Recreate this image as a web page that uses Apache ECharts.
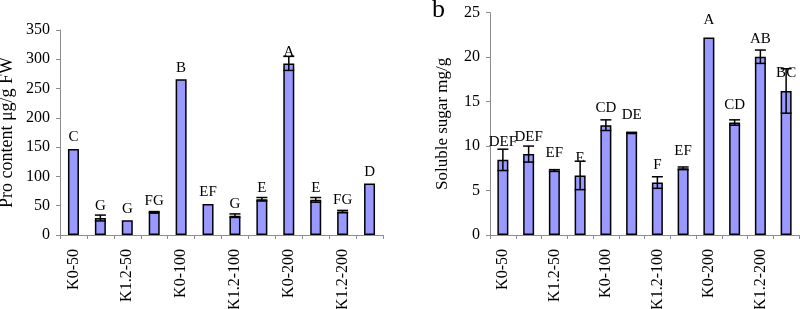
<!DOCTYPE html>
<html>
<head>
<meta charset="utf-8">
<script src="https://cdn.jsdelivr.net/npm/echarts@6/dist/echarts.min.js"></script>
<style>
  html, body { margin: 0; padding: 0; background: #fff; }
  #main { width: 800px; height: 309px; }
</style>
</head>
<body>
<div id="main"></div>
<script>
// tick labels (only every other treatment is labelled in the figure)
const categories = ['K0-50', '', 'K1.2-50', '', 'K0-100', '', 'K1.2-100', '', 'K0-200', '', 'K1.2-200', '']

// panel a: Pro content
const proValues = [147, 29, 25, 39, 266, 53, 33, 61, 293, 60, 40, 88]
const proErrors = [0, 5, 0, 1, 0, 0, 3, 3, 12, 4, 2, 0]
const proLetters = ['C', 'G', 'G', 'FG', 'B', 'EF', 'G', 'E', 'A', 'E', 'FG', 'D']

// panel b: soluble sugar
const sugarValues = [8.45, 9.1, 7.25, 6.7, 12.35, 11.5, 5.9, 7.5, 22.2, 12.65, 20.05, 16.2]
const sugarErrors = [1.2, 0.9, 0.1, 1.6, 0.6, 0.05, 0.65, 0.15, 0, 0.3, 0.75, 2.5]
const sugarLetters = ['DEF', 'DEF', 'EF', 'E', 'CD', 'DE', 'F', 'EF', 'A', 'CD', 'AB', 'BC']

const font = 'Liberation Serif'
const axisGrey = '#8c8c8c'

function errorBar (params, api) {
  const i = api.value(0)
  const v = api.value(1)
  const e = api.value(2)
  if (!e) return
  const top = api.coord([i, v + e])
  const bot = api.coord([i, v - e])
  const hw = 5.5
  const st = { stroke: '#000', lineWidth: 1.5 }
  return {
    type: 'group',
    children: [
      { type: 'line', shape: { x1: top[0], y1: top[1], x2: bot[0], y2: bot[1] }, style: st },
      { type: 'line', shape: { x1: top[0] - hw, y1: top[1], x2: top[0] + hw, y2: top[1] }, style: st },
      { type: 'line', shape: { x1: bot[0] - hw, y1: bot[1], x2: bot[0] + hw, y2: bot[1] }, style: st }
    ]
  }
}

function makeX (gridIndex) {
  return {
    type: 'category',
    gridIndex: gridIndex,
    data: categories,
    axisLine: { lineStyle: { color: axisGrey, width: 1 } },
    axisTick: { show: true, interval: 0, length: 4, lineStyle: { color: axisGrey } },
    axisLabel: { interval: 0, rotate: 90, margin: 14, fontFamily: font, fontSize: 16, color: '#000' }
  }
}

function makeY (gridIndex, max, interval, name, gap, nameSize) {
  return {
    type: 'value',
    gridIndex: gridIndex,
    min: 0,
    max: max,
    interval: interval,
    name: name,
    nameLocation: 'middle',
    nameGap: gap,
    nameTextStyle: { fontFamily: font, fontSize: nameSize, color: '#000' },
    splitLine: { show: false },
    axisLine: { show: true, lineStyle: { color: axisGrey, width: 1 } },
    axisTick: { show: true, length: 4, lineStyle: { color: axisGrey } },
    axisLabel: { margin: 10, fontFamily: font, fontSize: 16, color: '#000' }
  }
}

const chart = echarts.init(document.getElementById('main'))
chart.setOption({
  animation: false,
  grid: [
    { left: 60, top: 30, width: 323, bottom: 74, outerBoundsMode: 'none' },
    { left: 490, top: 12.7, right: 1, bottom: 74, outerBoundsMode: 'none' }
  ],
  xAxis: [makeX(0), makeX(1)],
  yAxis: [
    makeY(0, 350, 50, 'Pro content μg/g FW', 44, 18),
    makeY(1, 25, 5, 'Soluble sugar mg/g', 39, 17)
  ],
  graphic: [
    { type: 'text', left: 432, top: -3, style: { text: 'b', fontFamily: font, fontSize: 26, fill: '#000' } }
  ],
  series: [
    {
      type: 'bar',
      xAxisIndex: 0,
      yAxisIndex: 0,
      barWidth: 11,
      data: proValues,
      itemStyle: { color: '#9999ff', borderColor: '#000', borderWidth: 1.5 },
      label: {
        show: true,
        position: 'top',
        distance: 4,
        fontFamily: font,
        fontSize: 15,
        color: '#000',
        formatter: p => proLetters[p.dataIndex]
      }
    },
    {
      type: 'custom',
      xAxisIndex: 0,
      yAxisIndex: 0,
      z: 5,
      renderItem: errorBar,
      encode: { x: 0, y: 1 },
      data: proValues.map((v, i) => [i, v, proErrors[i]])
    },
    {
      type: 'bar',
      xAxisIndex: 1,
      yAxisIndex: 1,
      barWidth: 11,
      data: sugarValues,
      itemStyle: { color: '#9999ff', borderColor: '#000', borderWidth: 1.5 },
      label: {
        show: true,
        position: 'top',
        distance: 10,
        fontFamily: font,
        fontSize: 15,
        color: '#000',
        formatter: p => sugarLetters[p.dataIndex]
      }
    },
    {
      type: 'custom',
      xAxisIndex: 1,
      yAxisIndex: 1,
      z: 5,
      renderItem: errorBar,
      encode: { x: 0, y: 1 },
      data: sugarValues.map((v, i) => [i, v, sugarErrors[i]])
    }
  ]
})
</script>
</body>
</html>
